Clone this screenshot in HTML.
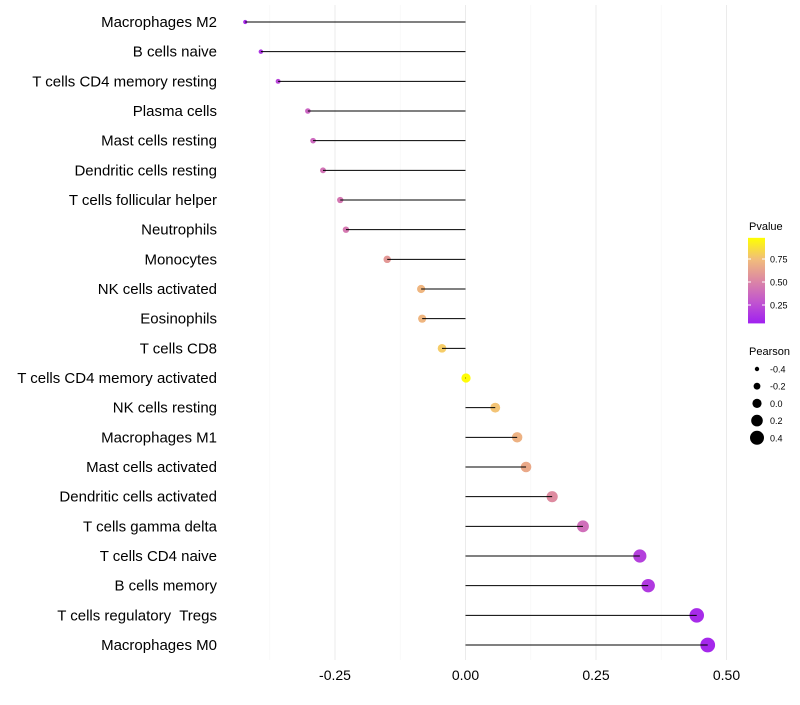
<!DOCTYPE html>
<html><head><meta charset="utf-8"><style>
body{margin:0;background:#fff;font-family:"Liberation Sans",sans-serif;}
text{white-space:pre;}
</style></head><body>
<svg id="chart" width="800" height="700" xmlns="http://www.w3.org/2000/svg"></svg>
<script>
const categories=["Macrophages M2","B cells naive","T cells CD4 memory resting","Plasma cells","Mast cells resting","Dendritic cells resting","T cells follicular helper","Neutrophils","Monocytes","NK cells activated","Eosinophils","T cells CD8","T cells CD4 memory activated","NK cells resting","Macrophages M1","Mast cells activated","Dendritic cells activated","T cells gamma delta","T cells CD4 naive","B cells memory","T cells regulatory  Tregs","Macrophages M0"];
const pearson=[-0.422,-0.392,-0.359,-0.302,-0.292,-0.273,-0.240,-0.229,-0.150,-0.085,-0.083,-0.045,0.001,0.057,0.099,0.116,0.166,0.225,0.334,0.350,0.443,0.464];
const pvalue=[0.05,0.10,0.18,0.33,0.35,0.40,0.42,0.43,0.58,0.72,0.72,0.82,0.99,0.78,0.70,0.66,0.52,0.38,0.15,0.12,0.05,0.04];
const xTicks=[-0.25,0,0.25,0.5];
const xTickLabels=["-0.25","0.00","0.25","0.50"];
const pTicks=[0.25,0.5,0.75];
const sizeLegend=[-0.4,-0.2,0,0.2,0.4];
const sizeLegendLabels=["-0.4","-0.2","0.0","0.2","0.4"];

const NS="http://www.w3.org/2000/svg";
const svg=document.getElementById('chart');
function mk(t,a,p){const e=document.createElementNS(NS,t);for(const k in a)e.setAttribute(k,a[k]);(p||svg).appendChild(e);return e;}
const x=v=>465.5+v*522;
const y=i=>22+i*(623/21);
const r=v=>4.6+v*6;
function col(p){
  const stops=[[0,[160,32,240]],[0.3,[200,95,200]],[0.55,[225,145,155]],[0.8,[245,200,115]],[1,[255,255,0]]];
  for(let i=1;i<stops.length;i++){if(p<=stops[i][0]){const a=stops[i-1],b=stops[i],t=(p-a[0])/(b[0]-a[0]);
    return 'rgb('+a[1].map((c,j)=>Math.round(c+(b[1][j]-c)*t)).join(',')+')';}}
  return 'rgb(255,255,0)';
}
xTicks.forEach((v,i)=>{
  let g=mk('line',{x1:x(v),x2:x(v),y1:5,y2:660,stroke:'#ebebeb','stroke-width':1});
  
  
  let t=mk('text',{x:x(v),y:680,'text-anchor':'middle','font-size':14,fill:'#000'});
  t.textContent=xTickLabels[i];
  
  
});
[-0.375,-0.125,0.125,0.375].forEach(v=>{
  let g=mk('line',{x1:x(v),x2:x(v),y1:5,y2:660,stroke:'#f5f5f5','stroke-width':0.6});
  
  
});
categories.forEach((c,i)=>{
  let t=mk('text',{x:217,y:y(i)+5,'text-anchor':'end','font-size':15,fill:'#000'});
  t.textContent=c;
  
  
  let d=mk('circle',{cx:x(pearson[i]),cy:y(i),r:r(pearson[i]),fill:col(pvalue[i])});
  
  
  let l=mk('line',{x1:x(0),x2:x(pearson[i]),y1:y(i),y2:y(i),stroke:'#000','stroke-width':1});
  
  
});
const defs=mk('defs',{});
const lg=mk('linearGradient',{id:'pg',x1:0,y1:1,x2:0,y2:0},defs);
[0,0.25,0.5,0.75,1].forEach(s=>mk('stop',{offset:s,'stop-color':col(s)},lg));
let lt=mk('text',{x:749,y:230,'font-size':11,fill:'#000'});lt.textContent='Pvalue';


const pY=p=>328-p*92;
let cb=mk('rect',{x:748,y:pY(0.98),width:17,height:pY(0.05)-pY(0.98),fill:'url(#pg)'});


pTicks.forEach(p=>{
  mk('line',{x1:748,x2:751,y1:pY(p),y2:pY(p),stroke:'#fff'});
  mk('line',{x1:762,x2:765,y1:pY(p),y2:pY(p),stroke:'#fff'});
  let t=mk('text',{x:770,y:pY(p)+3.5,'font-size':9,fill:'#000'});t.textContent=p.toFixed(2);
  
  
});
let st=mk('text',{x:749,y:355,'font-size':11,fill:'#000'});st.textContent='Pearson';


sizeLegend.forEach((v,i)=>{
  const cy=369+i*17.2;
  let c=mk('circle',{cx:757,cy:cy,r:r(v),fill:'#000'});
  
  
  let t=mk('text',{x:770,y:cy+3.5,'font-size':9,fill:'#000'});t.textContent=sizeLegendLabels[i];
  
  
});
</script>
</body></html>
